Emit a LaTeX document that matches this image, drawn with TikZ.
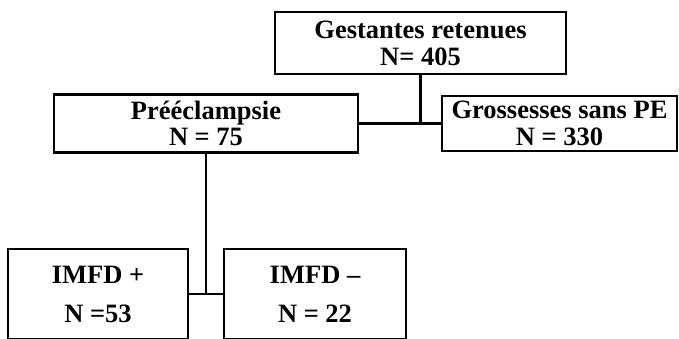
\documentclass[tikz,border=0pt]{standalone}
\usepackage{fontspec}
\setmainfont{Liberation Serif}
\begin{document}
\begin{tikzpicture}[x=1pt, y=-1pt,
  box/.style={draw, line width=2.8pt, align=center, inner sep=0pt,
    font=\fontsize{26.5}{27}\selectfont\bfseries},
  link/.style={line width=2.8pt}]
\useasboundingbox (0,0) rectangle (679,338);
\node[box, minimum width=291pt, minimum height=62pt] (gest) at (420.5, 43) {Gestantes retenues\\N= 405};
\node[box, minimum width=304pt, minimum height=58pt, font=\fontsize{26.5}{26}\selectfont\bfseries] (pe) at (206, 123.5) {Prééclampsie\\N = 75};
\node[box, minimum width=235pt, minimum height=55pt] (sanspe) at (559.5, 123.5) {Grossesses sans PE\\N = 330};
\node[box, minimum width=180pt, minimum height=90pt, font=\fontsize{26.5}{39}\selectfont\bfseries] (imfdpos) at (98, 294) {IMFD +\\N =53};
\node[box, minimum width=182pt, minimum height=90pt, font=\fontsize{26.5}{39}\selectfont\bfseries] (imfdneg) at (315, 294) {IMFD --\\N = 22};
\draw[link] (gest.south) -- (gest.south |- pe.east);
\draw[link] (pe.east) -- (sanspe.west);
\draw[link] (pe.south) -- (pe.south |- imfdpos.east);
\draw[link] (imfdpos.east) -- (imfdneg.west);
\end{tikzpicture}
\end{document}
